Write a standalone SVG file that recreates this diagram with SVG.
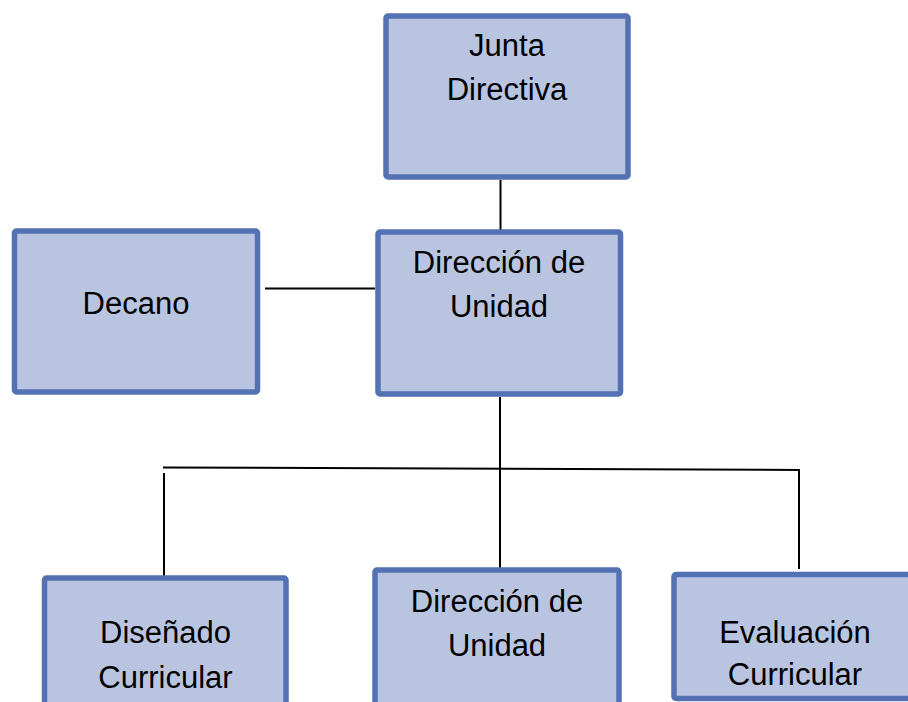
<svg xmlns="http://www.w3.org/2000/svg" width="908" height="702" viewBox="0 0 908 702">
  <style>
    .box { fill: #B9C5E0; stroke: #5471B3; stroke-width: 5.5; }
    .lbl { font-family: "Liberation Sans", Arial, sans-serif; font-size: 31px; fill: #000; text-anchor: middle; }
    .con { stroke: #000; stroke-width: 2; fill: none; }
  </style>
  <rect width="908" height="702" fill="#fff"/>
  <g id="connectors">
    <line class="con" x1="500.5" y1="180" x2="500.5" y2="230"/>
    <line class="con" x1="265" y1="288.5" x2="375" y2="288.5"/>
    <line class="con" x1="500" y1="397" x2="500" y2="568"/>
    <line class="con" x1="163" y1="467.5" x2="800" y2="470"/>
    <line class="con" x1="164" y1="473" x2="164" y2="584"/>
    <line class="con" x1="799" y1="470" x2="799" y2="569"/>
  </g>
  <g id="junta">
    <rect class="box" x="386" y="16" width="242" height="161" rx="2"/>
    <text class="lbl" x="507" y="56">Junta</text>
    <text class="lbl" x="507" y="100">Directiva</text>
  </g>
  <g id="decano">
    <rect class="box" x="14.5" y="231" width="243" height="161" rx="2"/>
    <text class="lbl" x="136" y="314">Decano</text>
  </g>
  <g id="direccion">
    <rect class="box" x="378" y="232" width="242.5" height="162" rx="2"/>
    <text class="lbl" x="499" y="273">Dirección de</text>
    <text class="lbl" x="499" y="317">Unidad</text>
  </g>
  <g id="disenado">
    <rect class="box" x="44.5" y="578" width="241.5" height="140" rx="2"/>
    <text class="lbl" x="165.5" y="643">Diseñado</text>
    <text class="lbl" x="165.5" y="688">Curricular</text>
  </g>
  <g id="direccion2">
    <rect class="box" x="375" y="570" width="244" height="148" rx="2"/>
    <text class="lbl" x="497" y="612">Dirección de</text>
    <text class="lbl" x="497" y="656">Unidad</text>
  </g>
  <g id="evaluacion">
    <rect class="box" x="674" y="574.5" width="250" height="124" rx="2"/>
    <text class="lbl" x="795" y="643">Evaluación</text>
    <text class="lbl" x="795" y="685">Curricular</text>
  </g>
</svg>
